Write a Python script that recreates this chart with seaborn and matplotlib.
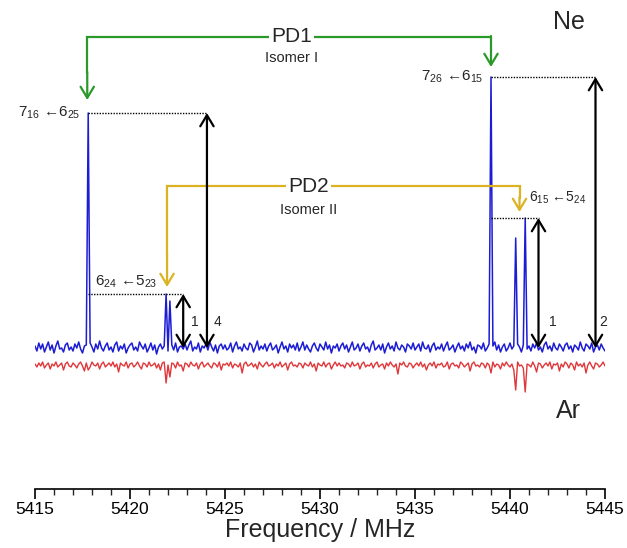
import numpy as np
import pandas as pd
import matplotlib
matplotlib.use("Agg")
import matplotlib.pyplot as plt
from matplotlib.ticker import MultipleLocator
import seaborn as sns

# frequency grid (MHz), 0.1 MHz steps
freq_start, freq_step, n_points = 5415.0, 0.1, 301

# baseline noise (arbitrary units)
ne_noise = [
    2, -3, 5, -1, 4, -4, 1, 6, -2, 3, -5, 2, 7, -1, 0, -4, 3, 5, -2, 1,
    -3, 4, 0, 6, -1, -5, 2, 3, -2, 5, 1, -4, 4, -1, 7, 0, -3, 2, 5, -2,
    1, -4, 3, 6, -3, 2, -1, 4, -5, 0, 3, 5, -2, 1, -3, 6, 2, -1, 4, -4,
    0, 5, -2, 3, -6, 1, 4, -1, 2, 6, -3, 0, 3, -2, 5, -4, 1, 2, -1, 4,
    -2, 3, 7, -3, 1, -1, 5, -4, 2, 0, 4, -2, 6, 1, -3, 3, -5, 2, 4, -1,
    3, -2, 0, 5, -4, 2, 6, -1, 1, -3, 4, 0, -2, 5, 3, -4, 1, 7, -2, 2,
    -1, 4, -3, 2, 5, -2, 0, 3, -5, 1, 6, -1, 2, -4, 4, 0, 3, -2, 5, -3,
    1, 6, -2, 3, -1, -4, 2, 5, 0, -3, 4, 1, -2, 6, -1, 3, -5, 2, 0, 4,
    -3, 2, 5, -1, 3, -4, 1, 6, -2, 0, 4, -3, 2, 5, -1, 1, -4, 3, 7, -2,
    0, 3, -2, 4, -5, 1, 5, -1, 2, -3, 6, 0, -2, 3, 1, -4, 4, 2, -1, 5,
    -2, 1, 4, -3, 6, 0, -1, 3, -4, 2, 5, -2, 1, -1, 4, -3, 2, 6, -2, 0,
    3, -4, 1, 5, -1, 2, -3, 4, 0, 6, -2, 1, -5, 3, 2, -1, 5, -3, 0, 4,
    -1, 2, 6, -2, 3, -4, 1, 4, -3, 0, 5, -1, 2, -2, 4, 1, -4, 3, 6, -1,
    2, -3, 4, 0, 5, -2, 1, -4, 3, 6, -1, 2, -3, 5, 0, -2, 4, 1, -3, 3,
    5, -1, 2, -4, 3, 1, -2, 6, 0, -3, 4, 2, -1, 5, -4, 1, 3, -2, 4, 0,
    -3,
]
ar_noise = [
    1, -2, 2, -1, 3, -3, 0, 2, -4, 1, -1, 3, -2, 0, 2, -5, 1, 3, -1, -2,
    2, 0, -3, 1, 3, -1, -6, 2, 1, -2, 3, 0, -1, 2, -4, 1, 3, -2, 0, 2,
    -1, 3, -2, 1, -7, 2, 0, -1, 3, -3, 1, 2, -2, 0, 3, -1, -4, 2, 1, -2,
    3, -1, 0, 2, -3, 1, -5, 2, 3, -1, 0, -2, 2, 1, -3, 3, -1, 0, -6, 2,
    1, -2, 3, 0, -1, 2, -4, 1, 3, -2, 0, 2, -1, -3, 2, 1, -2, 3, -5, 1,
    0, 2, -1, 3, -3, 1, 0, -2, 2, -8, 1, 3, -1, 0, 2, -2, 1, -4, 3, 0,
    -2, 1, 3, -1, 0, 2, -3, 1, -1, 3, -2, 0, 2, -5, 1, 3, -1, 0, -2, 2,
    1, -3, 2, 0, -1, 3, -2, 1, -6, 2, 0, -1, 3, -2, 1, 2, -4, 0, 3, -1,
    2, -1, 0, -3, 2, 1, -2, 3, -1, 0, 2, -4, 1, 3, -2, 0, -1, 2, -3, 1,
    3, -2, 0, 1, -4, 2, -1, 3, 0, -2, 1, -9, 2, 0, 3, -1, -2, 2, 1, -3,
    0, 2, -1, 3, -2, 1, -5, 0, 2, -1, 3, -3, 1, 0, 2, -2, -1, 3, -4, 1,
    2, -1, 0, -3, 3, 1, -2, 0, 2, -6, 1, 3, -1, 0, -2, 2, 1, -3, 2, 0,
    -1, 3, -2, 1, 0, -4, 2, -1, 3, 0, -2, 1, -5, 2, 3, -1, 0, -3, 2, 1,
    0, -2, 3, -1, -7, 2, 1, -3, 0, 2, -1, 3, -4, 1, 0, 2, -6, 1, -2, 3,
    1, -3, 2, 0, -5, 3, -1, 1, -2, 2, -8, 0, 3, -1, -4, 2, 1, -2, 0, 3,
    -1,
]

# lines in the Ne spectrum (MHz, intensity)
ne_peak_freq = [5417.8, 5421.9, 5422.1, 5439.0, 5440.3, 5440.8]
ne_peak_height = [235, 54, 47, 271, 110, 130]

# depletions in the Ar spectrum
ar_dip_freq = [5417.8, 5421.9, 5422.1, 5439.0, 5440.3, 5440.8]
ar_dip_depth = [-5, -18, -12, -8, -25, -27]

xticks = [5415, 5420, 5425, 5430, 5435, 5440, 5445]

freq = np.round(freq_start + freq_step * np.arange(n_points), 1)
ne = np.array(ne_noise, dtype=float)
ar = np.array(ar_noise, dtype=float)
for f, h in zip(ne_peak_freq, ne_peak_height):
    ne[np.argmin(np.abs(freq - f))] = h
for f, d in zip(ar_dip_freq, ar_dip_depth):
    ar[np.argmin(np.abs(freq - f))] = d

ar_offset = -17
df = pd.DataFrame({"freq": freq, "Ne": ne, "Ar": ar + ar_offset})

sns.set_style("white")
plt.rcParams["font.family"] = ["Liberation Sans", "DejaVu Sans"]
plt.rcParams["mathtext.fontset"] = "custom"
plt.rcParams["mathtext.rm"] = "Liberation Sans"
plt.rcParams["mathtext.it"] = "Liberation Sans:italic"

fig = plt.figure(figsize=(6.27, 5.48), dpi=100)
ax = fig.add_axes([35 / 627, 59 / 548, 570 / 627, 489 / 548])

sns.lineplot(data=df, x="freq", y="Ar", color="#e0373a", lw=1.0, ax=ax)
sns.lineplot(data=df, x="freq", y="Ne", color="#1c1cd4", lw=1.1, ax=ax)

ax.set_xlim(5415, 5445)
ax.set_ylim(-141, 348)
ax.set_xticks(xticks)
ax.xaxis.set_minor_locator(MultipleLocator(1))
ax.set_yticks([])
ax.set_ylabel("")
ax.set_xlabel("Frequency / MHz", fontsize=18, labelpad=1)
ax.tick_params(axis="x", which="major", direction="out", length=7, width=1.2,
               labelsize=12.5, pad=2, colors="black")
ax.tick_params(axis="x", which="minor", direction="out", length=4, width=1.0)
ax.tick_params(axis="x", which="both", bottom=True)
for s in ["left", "top", "right"]:
    ax.spines[s].set_visible(False)
ax.spines["bottom"].set_linewidth(1.2)
ax.spines["bottom"].set_color("black")

p1, d1, d2, p2, q1, q2 = ne_peak_height
green = "#2a992a"
gold = "#dbb322"
open_head = "->,head_length=0.5,head_width=0.3"
both_head = "<->,head_length=0.5,head_width=0.3"

# PD1 bracket (isomer I)
top1 = 311
ax.plot([5417.75, 5417.75, 5439.0, 5439.0], [p1 + 40, top1, top1, p2 + 40],
        color=green, lw=1.6, solid_joinstyle="miter")
ax.annotate("", xy=(5417.75, p1 + 13), xytext=(5417.75, p1 + 41),
            arrowprops=dict(arrowstyle=open_head, color=green, lw=1.6,
                            mutation_scale=16, shrinkA=0, shrinkB=0))
ax.annotate("", xy=(5439.0, p2 + 10), xytext=(5439.0, p2 + 41),
            arrowprops=dict(arrowstyle=open_head, color=green, lw=1.6,
                            mutation_scale=16, shrinkA=0, shrinkB=0))
ax.text(5428.5, top1, "PD1", fontsize=15, ha="center", va="center",
        bbox=dict(facecolor="white", edgecolor="none", pad=1.5))
ax.text(5428.5, top1 - 21, "Isomer I", fontsize=10.5, ha="center", va="center")

# PD2 bracket (isomer II)
top2 = 162
ax.plot([5421.95, 5421.95, 5440.5, 5440.5], [d1 + 40, top2, top2, q2 + 20],
        color=gold, lw=1.6, solid_joinstyle="miter")
ax.annotate("", xy=(5421.95, d1 + 7), xytext=(5421.95, d1 + 41),
            arrowprops=dict(arrowstyle=open_head, color=gold, lw=1.6,
                            mutation_scale=16, shrinkA=0, shrinkB=0))
ax.annotate("", xy=(5440.5, q2 + 6), xytext=(5440.5, q2 + 21),
            arrowprops=dict(arrowstyle=open_head, color=gold, lw=1.6,
                            mutation_scale=16, shrinkA=0, shrinkB=0))
ax.text(5429.4, top2, "PD2", fontsize=15, ha="center", va="center",
        bbox=dict(facecolor="white", edgecolor="none", pad=1.5))
ax.text(5429.4, top2 - 24, "Isomer II", fontsize=10.5, ha="center", va="center")

# dotted guides and intensity arrows
guides = [(5417.8, 5424.05, p1), (5439.0, 5444.5, p2),
          (5417.8, 5422.8, d1), (5439.0, 5441.5, q2)]
for x0, x1, h in guides:
    ax.plot([x0, x1], [h, h], color="black", lw=1.0, ls=(0, (1, 1)))
for x, h, lab, dx in [(5422.8, d1, "1", 0.6), (5424.05, p1, "4", 0.55),
                      (5441.5, q2, "1", 0.75), (5444.5, p2, "2", 0.4)]:
    ax.annotate("", xy=(x, h), xytext=(x, 0),
                arrowprops=dict(arrowstyle=both_head, color="black", lw=1.6,
                                mutation_scale=16, shrinkA=0, shrinkB=0))
    ax.text(x + dx, 26, lab, fontsize=10, ha="center", va="center")

# transition labels
ax.text(5417.4, p1, r"$\mathregular{7_{16}}$ ←$\mathregular{6_{25}}$", fontsize=11,
        ha="right", va="center")
ax.text(5438.6, p2, r"$\mathregular{7_{26}}$ ←$\mathregular{6_{15}}$", fontsize=11,
        ha="right", va="center")
ax.text(5419.8, d1 + 12, r"$\mathregular{6_{24}}$ ←$\mathregular{5_{23}}$", fontsize=11,
        ha="center", va="center")
ax.text(5442.5, q2 + 20, r"$\mathregular{6_{15}}$ ←$\mathregular{5_{24}}$", fontsize=10,
        ha="center", va="center")

ax.text(5443.1, 326, "Ne", fontsize=18, ha="center", va="center")
ax.text(5443.1, -63, "Ar", fontsize=18, ha="center", va="center")

fig.savefig("out.png", dpi=100)
